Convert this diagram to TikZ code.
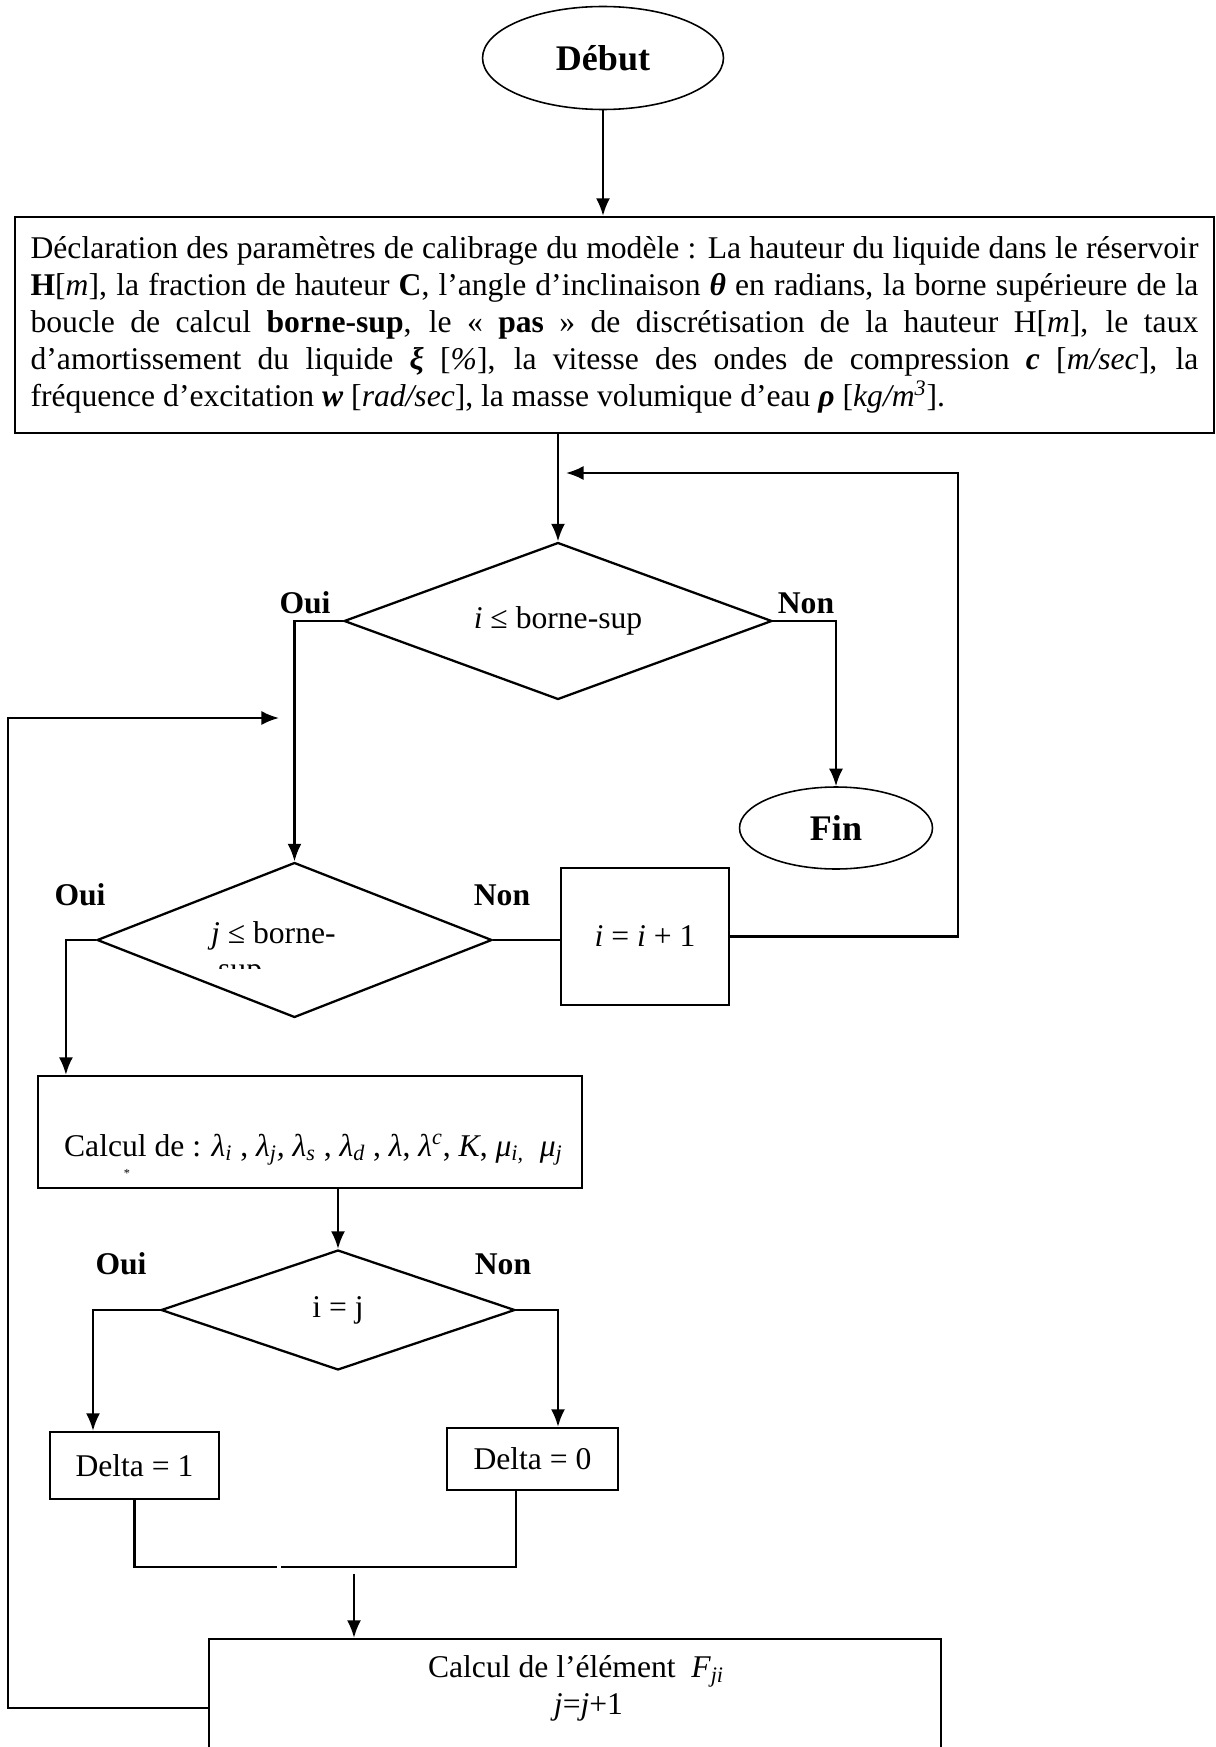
\documentclass[tikz,border=0pt]{standalone}
\usepackage{fontspec}
\setmainfont{Liberation Serif}
\usetikzlibrary{shapes.geometric}
\usetikzlibrary{arrows.meta}
\usetikzlibrary{calc}
\hyphenpenalty=10000
\exhyphenpenalty=10000

\begin{document}
\begin{tikzpicture}[x=0.02cm, y=-0.02cm, line width=1.3pt,
    every node/.style={font=\fontsize{18}{21}\selectfont},
    terminal/.style={ellipse, draw, line width=0.9pt, inner sep=0pt, font=\fontsize{20.5}{25}\selectfont\bfseries},
    procbox/.style={rectangle, draw, inner sep=0pt},
    testbox/.style={diamond, draw, inner sep=0pt, aspect=2.5},
    yesno/.style={font=\fontsize{18}{21}\selectfont\bfseries},
    arr/.style={-{Latex[length=10pt,width=8pt]}}]
    \useasboundingbox (0,0) rectangle (1216,1747);

    \node (debut) at (603,58) [terminal, minimum width=4.82cm, minimum height=2.06cm] {Début};

    \node (decl) at (614.5,325) [procbox, minimum width=23.98cm, minimum height=4.32cm, text width=23.36cm, align=justify] {Déclaration des paramètres de calibrage du modèle : La hauteur du liquide dans le réservoir\linebreak
    \textbf{H}[\textit{m}], la fraction de hauteur \textbf{C}, l’angle d’inclinaison \textbf{\textit{θ}} en radians, la borne supérieure de la\linebreak
    boucle de calcul \textbf{borne-sup}, le « \textbf{pas} » de discrétisation de la hauteur H[\textit{m}], le taux\linebreak
    d’amortissement du liquide \textbf{\textit{ξ}} [\textit{\%}], la vitesse des ondes de compression \textbf{\textit{c}} [\textit{m/sec}], la\linebreak
    fréquence d’excitation \textbf{\textit{w}} [\textit{rad/sec}], la masse volumique d’eau \textbf{\textit{ρ}} [\textit{kg/m\textsuperscript{3}}].};

    \node (d1) at (558,621) [testbox, minimum width=8.56cm, minimum height=3.14cm] {\textit{i} ≤ borne-sup};
    \node (fin) at (836,828) [terminal, minimum width=3.86cm, minimum height=1.64cm] {Fin};

    \node (d2) at (294.5,940) [testbox, minimum width=7.9cm, minimum height=3.1cm] {};
    \node (d2txt) at (210,943) [anchor=base west, inner sep=0pt] {\textit{j} ≤ borne-};
    \begin{scope}
        \clip (200,950) rectangle (300,968);
        \node (d2sup) at (217,979) [anchor=base west, inner sep=0pt] {sup};
    \end{scope}

    \node (inc) at (645,936.5) [procbox, minimum width=3.36cm, minimum height=2.74cm] {\textit{i} = \textit{i} + 1};

    \node (calc) at (310,1132) [procbox, minimum width=10.88cm, minimum height=2.24cm] {};
    \node (calctxt) at (63,1156) [anchor=base west, inner sep=0pt] {Calcul de : \textit{λ\textsubscript{i}} , \textit{λ\textsubscript{j},} \textit{λ\textsubscript{s}} , \textit{λ\textsubscript{d}} , \textit{λ}, \textit{λ\textsuperscript{c}}, \textit{K}, \textit{μ\textsubscript{i,}} \ \textit{μ\textsubscript{j}}};
    \node (star) at (127,1173) [font=\fontsize{7}{8}\selectfont, inner sep=0pt] {*};

    \node (d3) at (338,1310) [testbox, minimum width=7.08cm, minimum height=2.4cm] {i = j};

    \node (del1) at (134.5,1465.5) [procbox, minimum width=3.38cm, minimum height=1.34cm] {Delta = 1};
    \node (del0) at (532.5,1459) [procbox, minimum width=3.42cm, minimum height=1.24cm] {Delta = 0};

    \node (calcF) at (575,1708) [procbox, minimum width=14.64cm, minimum height=2.76cm] {};
    \node (calcFtxt) at (576,1688.5) [align=center, inner sep=0pt] {Calcul de l’élément \ \textit{F\textsubscript{ji}}\\\hspace*{0.5cm}\textit{j}=\textit{j}+1};

    \foreach \nm/\txt/\px/\py in {oui1/Oui/305/603, non1/Non/806/603, oui2/Oui/80/895, non2/Non/502/895, oui3/Oui/121/1264, non3/Non/503/1264}
        \node[yesno] (\nm) at (\px,\py) {\txt};

    \coordinate (rtop) at (958,473);
    \coordinate (rtip) at (566,473);
    \coordinate (mgapl) at (277,1567);
    \coordinate (mgapr) at (281,1567);
    \coordinate (mrg) at (354,1574);
    \coordinate (lcorner) at (8,718);
    \coordinate (ltip) at (279,718);

    \draw[arr] (debut) -- (decl.north -| debut);
    \draw[arr] (decl.south -| d1.north) -- (d1.north);
    \draw[arr] (d1.west) -| (d2.north);
    \draw[arr] (d1.east) -| (fin.north);
    \draw (d2.east) -- (d2.east -| inc.west);
    \draw[arr] (inc.east) -| (rtop) -- (rtip);
    \draw[arr] (d2.west) -| ($(calc.north west)+(29,0)$);
    \draw[arr] (calc.south -| d3.north) -- (d3.north);
    \draw[arr] (d3.west) -| ($(del1.north)+(-41.5,0)$);
    \draw[arr] (d3.east) -| ($(del0.north)+(25.5,0)$);
    \draw (del1.south) |- (mgapl);
    \draw ($(del0.south)+(-16.5,0)$) |- (mgapr);
    \draw[arr] (mrg) -- (mrg |- calcF.north);
    \draw[arr] (calcF.west) -| (lcorner) -- (ltip);
\end{tikzpicture}
\end{document}
